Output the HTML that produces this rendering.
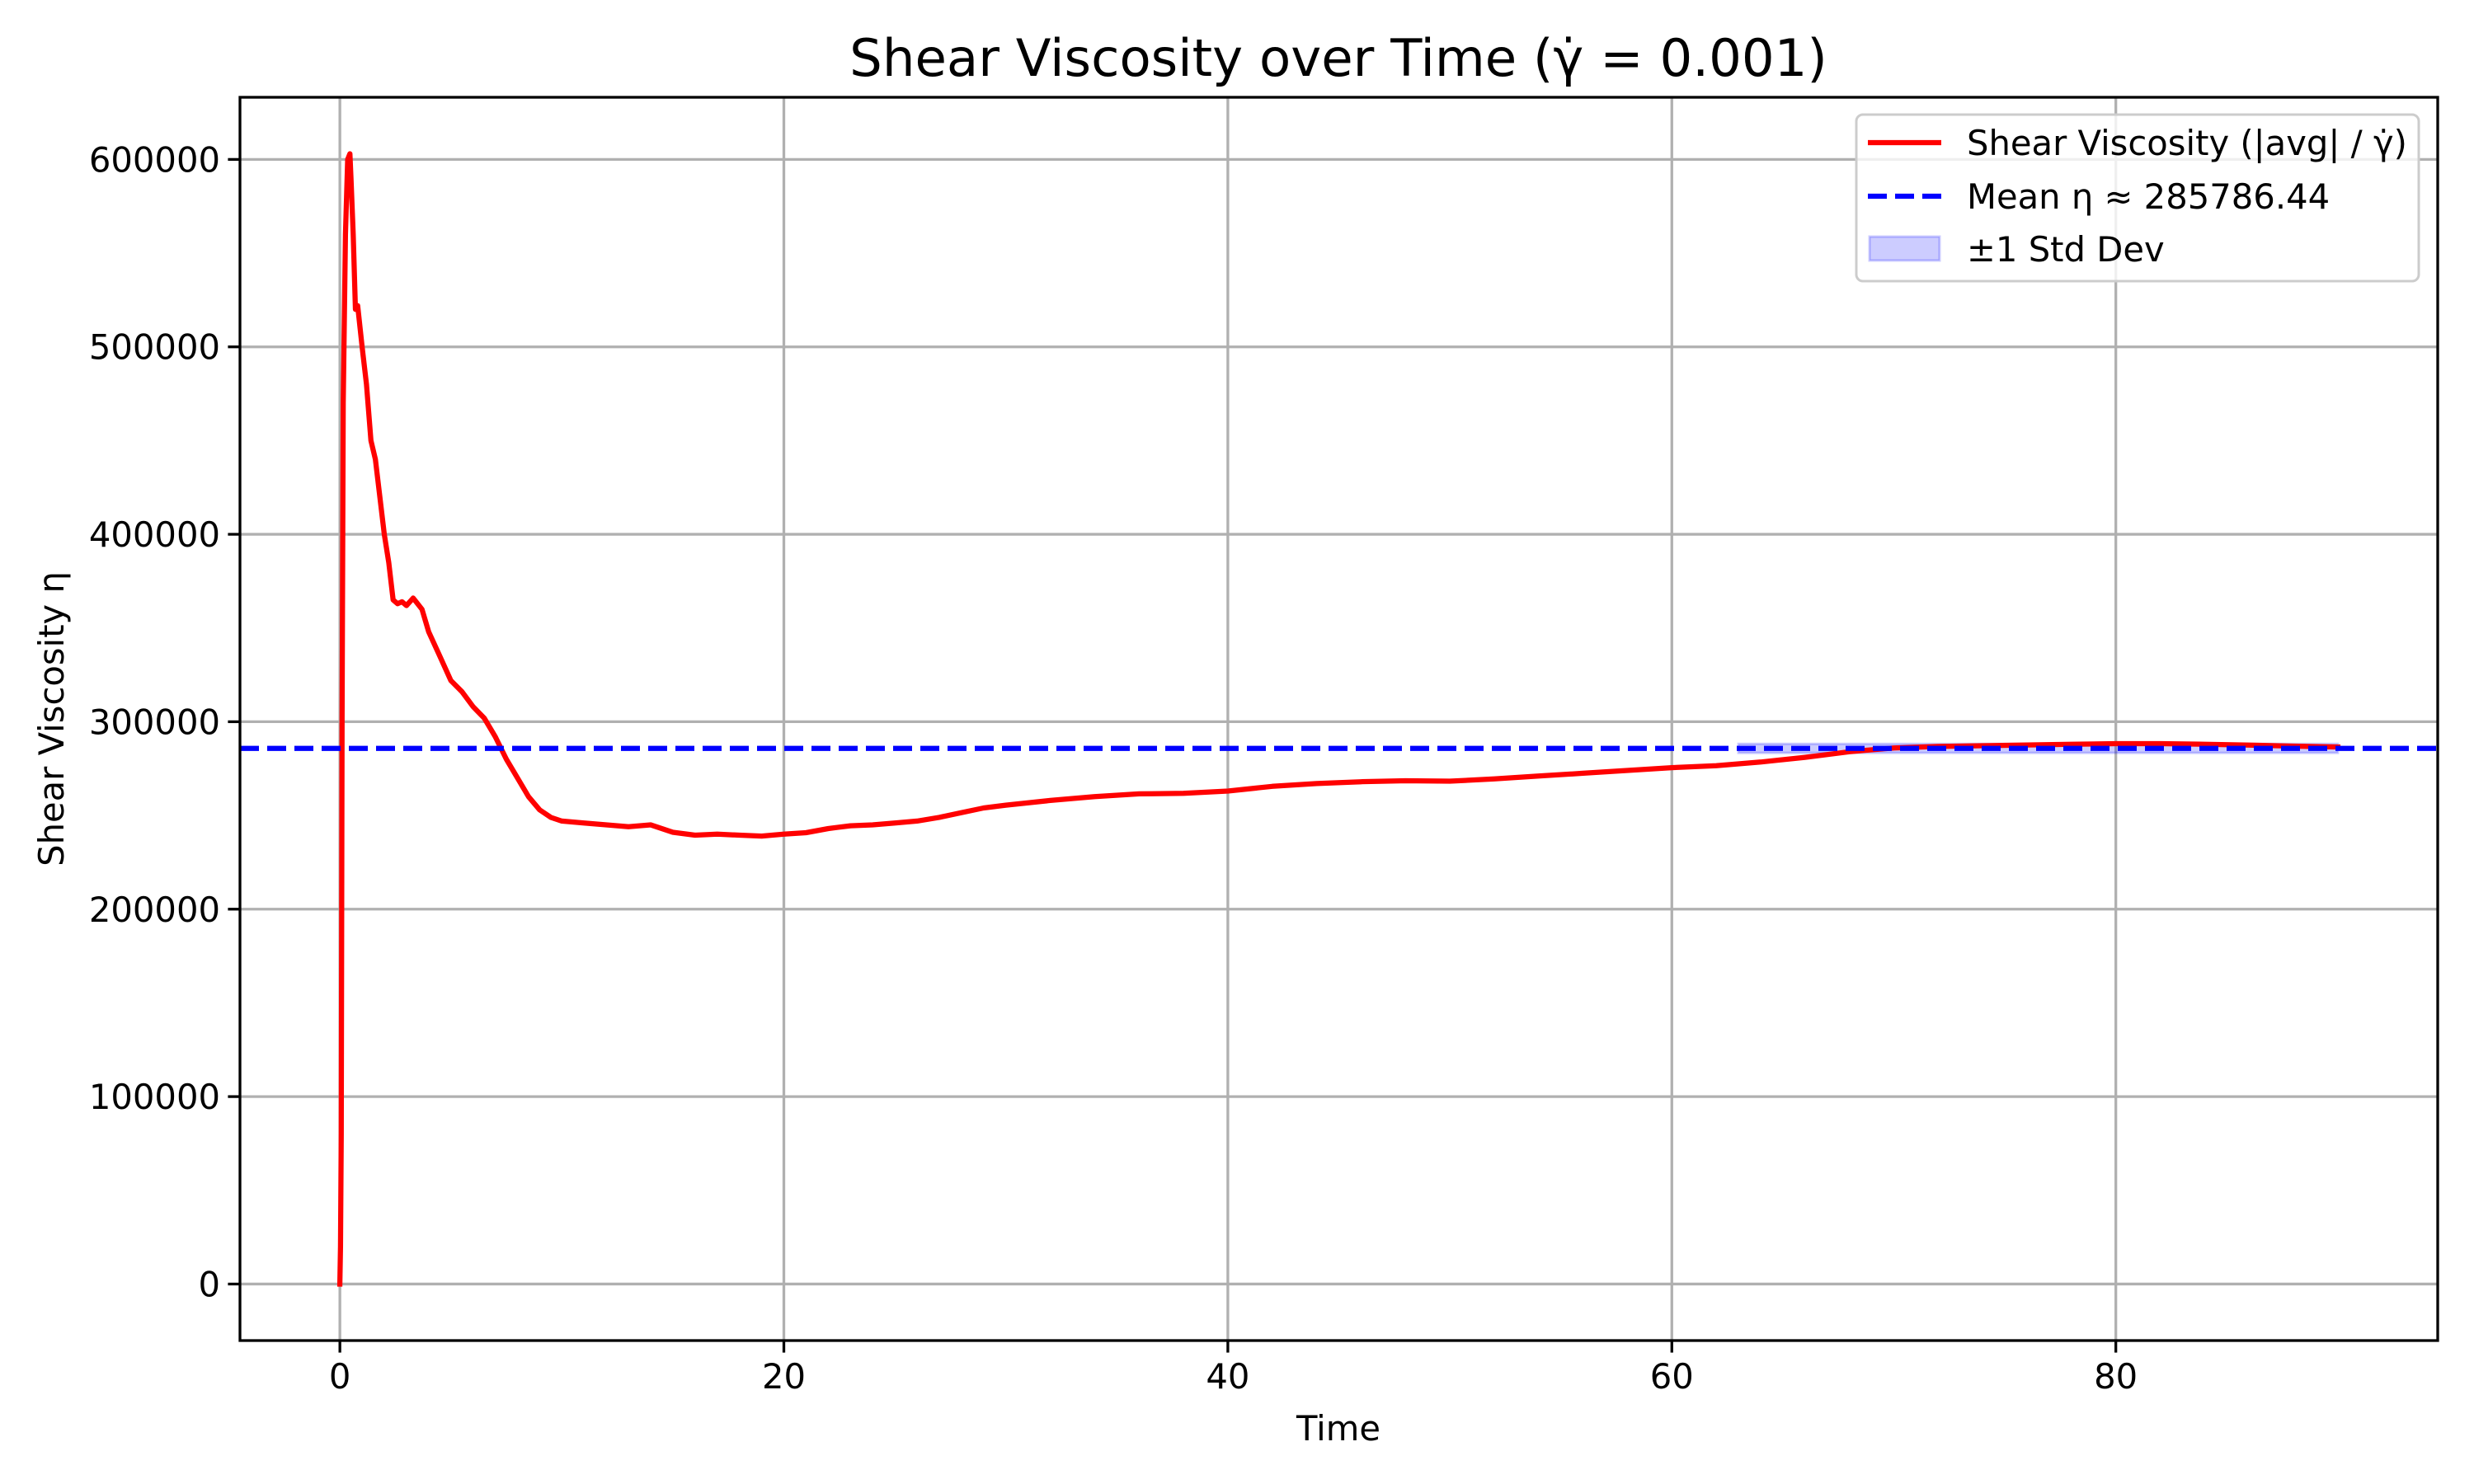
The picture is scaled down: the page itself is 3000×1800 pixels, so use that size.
<!DOCTYPE html>
<html><head><meta charset="utf-8">
<style>
html,body{margin:0;padding:0;background:#fff;}
svg{display:block;font-family:"DejaVu Sans","Liberation Sans",sans-serif;}
</style></head>
<body>
<svg id="chart" width="3000" height="1800" viewBox="0 0 3000 1800" xmlns="http://www.w3.org/2000/svg">
<rect x="0" y="0" width="3000" height="1800" fill="#fff"/>
<g id="grid"></g>
<g id="band"></g>
<g id="series"></g>
<g id="axes"></g>
<text x="1623" y="92" font-size="62.5" text-anchor="middle">Shear Viscosity over Time (γ̇ = 0.001)</text>
<text x="1623" y="1747" font-size="41.7" text-anchor="middle">Time</text>
<text transform="translate(77,872) rotate(-90)" font-size="41.7" text-anchor="middle">Shear Viscosity η</text>
<g>
<rect x="2251" y="139" width="682" height="202" rx="8" fill="#fff" fill-opacity="0.8" stroke="#cccccc" stroke-width="3"/>
<line x1="2265" y1="173" x2="2354" y2="173" stroke="#ff0000" stroke-width="6.25"/>
<text x="2385" y="188" font-size="41.7">Shear Viscosity (|avg| / γ̇)</text>
<line x1="2265" y1="238" x2="2354" y2="238" stroke="#0000ff" stroke-width="6.25" stroke-dasharray="23,10"/>
<text x="2385" y="253" font-size="41.7">Mean η ≈ 285786.44</text>
<rect x="2267" y="287" width="85" height="29" fill="#0000ff" fill-opacity="0.2" stroke="#0000ff" stroke-opacity="0.2" stroke-width="3"/>
<text x="2385" y="317" font-size="41.7">±1 Std Dev</text>
</g>
</svg>
<script>
const times = [0,0.03,0.06,0.1,0.15,0.25,0.35,0.45,0.5,0.6,0.7,0.8,1.0,1.2,1.4,1.6,1.8,2.0,2.2,2.4,2.6,2.8,3.0,3.3,3.7,4.0,4.5,5,5.5,6,6.5,7,7.5,8,8.5,9,9.5,10,11,12,13,14,15,16,17,18,19,20,21,22,23,24,25,26,27,28,29,30,32,34,36,38,40,42,44,46,48,50,52,54,56,58,60,62,64,66,68,70,72,74,76,78,80,82,84,86,88,90];
const viscosity = [0,20000,80000,300000,470000,560000,600000,603000,590000,560000,520000,522000,500000,480000,450000,440000,420000,400000,385000,365000,363000,364000,362000,366000,360000,348000,335000,322000,316000,308000,302000,292000,280000,270000,260000,253000,249000,247000,246000,245000,244000,245000,241000,239500,240000,239500,239000,240000,240800,243000,244500,245000,246000,247000,249000,251500,254000,255500,258000,260000,261500,261800,263000,265500,267000,268000,268500,268300,269500,271000,272500,274000,275500,276500,278500,281000,284000,286000,286800,287200,287600,288000,288300,288300,288000,287500,287000,286500];
const meanValue = 285786.44;
const stdValue = 2400;
const bandRange = [63, 90];
const xTicks = [0,20,40,60,80];
const yTicks = [0,100000,200000,300000,400000,500000,600000];

const NS='http://www.w3.org/2000/svg';
const L=291,R=2956,T=118,B=1626;
const xMin=-4.5,xMax=94.5,yMin=-30150,yMax=633150;
function xs(v){return L+(v-xMin)/(xMax-xMin)*(R-L);}
function ys(v){return B-(v-yMin)/(yMax-yMin)*(B-T);}
function mk(tag,attrs,parent){const e=document.createElementNS(NS,tag);for(const k in attrs)e.setAttribute(k,attrs[k]);parent.appendChild(e);return e;}

const grid=document.getElementById('grid'),axes=document.getElementById('axes'),band=document.getElementById('band'),series=document.getElementById('series');
xTicks.forEach(t=>{
  const g=mk('line',{x1:xs(t),x2:xs(t),y1:T,y2:B,stroke:'#b0b0b0','stroke-width':3.3},grid);
  
  
  const tk=mk('line',{x1:xs(t),x2:xs(t),y1:B,y2:B+14.6,stroke:'#000','stroke-width':3.3},axes);
  
  
  const tx=mk('text',{x:xs(t),y:B+58,'font-size':41.7,'text-anchor':'middle'},axes);
  tx.textContent=t;
  
  
});
yTicks.forEach(t=>{
  const g=mk('line',{x1:L,x2:R,y1:ys(t),y2:ys(t),stroke:'#b0b0b0','stroke-width':3.3},grid);
  
  
  const tk=mk('line',{x1:L-14.6,x2:L,y1:ys(t),y2:ys(t),stroke:'#000','stroke-width':3.3},axes);
  
  
  const tx=mk('text',{x:L-24,y:ys(t)+15,'font-size':41.7,'text-anchor':'end'},axes);
  tx.textContent=t;
  
  
});
const fr=mk('rect',{x:L,y:T,width:R-L,height:B-T,fill:'none',stroke:'#000','stroke-width':3.3},axes);



const bd=mk('rect',{x:xs(bandRange[0]),y:ys(meanValue+stdValue),width:xs(bandRange[1])-xs(bandRange[0]),height:ys(meanValue-stdValue)-ys(meanValue+stdValue),fill:'#0000ff','fill-opacity':0.2,stroke:'#0000ff','stroke-opacity':0.2,'stroke-width':3},band);



const pts=times.map((t,i)=>xs(t).toFixed(1)+','+ys(viscosity[i]).toFixed(1)).join(' ');
const pl=mk('polyline',{points:pts,fill:'none',stroke:'#ff0000','stroke-width':6.25,'stroke-linejoin':'round','stroke-linecap':'square'},series);



const ml=mk('line',{x1:L,x2:R,y1:ys(meanValue),y2:ys(meanValue),stroke:'#0000ff','stroke-width':6.25,'stroke-dasharray':'23,10'},series);


</script>
</body></html>
